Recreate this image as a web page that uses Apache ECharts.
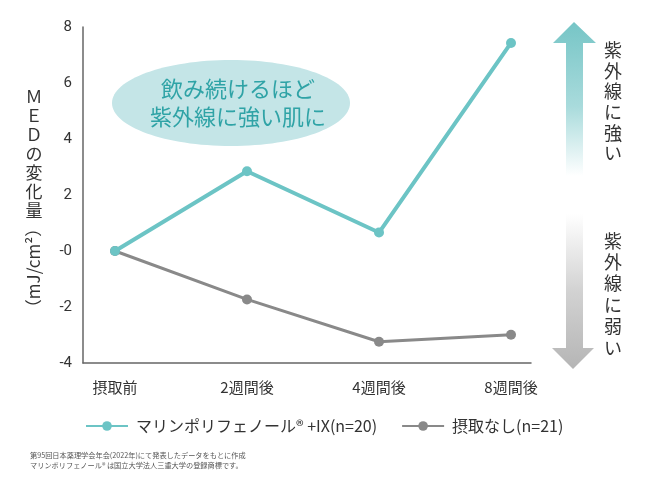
<!DOCTYPE html>
<html lang="ja">
<head>
<meta charset="UTF-8">
<title>MED</title>
<script src="https://cdn.jsdelivr.net/npm/echarts@6/dist/echarts.min.js"></script>
<style>
  html, body { margin: 0; padding: 0; background: #fff; }
  #chart { width: 660px; height: 480px; }
</style>
</head>
<body>
<div id="chart"></div>
<script>
  // データ
  var categories = ['摂取前', '2週間後', '4週間後', '8週間後'];
  var marineValues = [0, 2.85, 0.66, 7.43];
  var noneValues = [0, -1.73, -3.24, -2.99];
  var seriesNames = ['マリンポリフェノール® +IX(n=20)', '摂取なし(n=21)'];
  var yTicks = [-4, -2, 0, 2, 4, 6, 8];

  var font = '"Noto Sans CJK JP", "Noto Sans", sans-serif';
  var teal = '#6cc4c5';
  var gray = '#898989';

  function toPoints(vals) {
    return vals.map(function (v, i) { return [i, v]; });
  }

  var chart = echarts.init(document.getElementById('chart'));

  var option = {
    animation: false,
    textStyle: { fontFamily: font },
    grid: { left: 83, right: 129, top: 27, bottom: 117, containLabel: false },
    xAxis: {
      type: 'value',
      min: -0.2424,
      max: 3.1515,
      splitLine: { show: false },
      axisTick: { show: false },
      axisLine: { show: true, onZero: false, lineStyle: { color: '#666', width: 1.5 } },
      axisLabel: {
        customValues: [0, 1, 2, 3],
        formatter: function (v) { return categories[Math.round(v)]; },
        color: '#333',
        fontSize: 15,
        margin: 17,
        fontFamily: font
      }
    },
    yAxis: {
      type: 'value',
      min: yTicks[0],
      max: yTicks[yTicks.length - 1],
      interval: 2,
      splitLine: { show: false },
      axisTick: { show: false },
      axisLine: { show: true, onZero: false, lineStyle: { color: '#666', width: 1.5 } },
      axisLabel: {
        formatter: function (v) { return v === 0 ? '-0' : String(v); },
        color: '#333',
        fontSize: 15,
        margin: 11,
        fontFamily: 'Roboto, sans-serif'
      }
    },
    legend: {
      left: 80,
      top: 413,
      itemWidth: 42,
      itemHeight: 12,
      itemGap: 24,
      textStyle: { fontSize: 16, color: '#333', fontFamily: font, padding: [0, 0, 0, 3] },
      data: seriesNames
    },
    series: [
      {
        name: seriesNames[0],
        type: 'line',
        data: toPoints(marineValues),
        symbol: 'circle',
        symbolSize: 10,
        lineStyle: { color: teal, width: 4 },
        itemStyle: { color: teal },
        z: 3
      },
      {
        name: seriesNames[1],
        type: 'line',
        data: toPoints(noneValues),
        symbol: 'circle',
        symbolSize: 10,
        lineStyle: { color: gray, width: 3 },
        itemStyle: { color: gray },
        z: 2
      }
    ],
    graphic: [
      // 吹き出し
      {
        type: 'ellipse',
        shape: { cx: 231, cy: 103, rx: 119, ry: 43 },
        style: { fill: '#c4e5e7' },
        z: 1
      },
      {
        type: 'text',
        x: 238, y: 103,
        style: {
          text: '飲み続けるほど\n紫外線に強い肌に',
          fill: '#2fa3a6',
          fontSize: 22,
          lineHeight: 28,
          fontFamily: font,
          align: 'center',
          verticalAlign: 'middle'
        },
        z: 2
      },
      // 縦軸タイトル
      {
        type: 'text',
        x: 34, y: 87,
        style: {
          text: 'Ｍ\nＥ\nＤ\nの\n変\n化\n量',
          fill: '#333',
          fontSize: 17,
          lineHeight: 19,
          fontFamily: font,
          align: 'center',
          verticalAlign: 'top'
        }
      },
      {
        type: 'text',
        x: 34, y: 268,
        rotation: Math.PI / 2,
        style: {
          text: '（mJ/cm²）',
          fill: '#333',
          fontSize: 17,
          fontFamily: font,
          align: 'center',
          verticalAlign: 'middle'
        }
      },
      // 右側の矢印
      {
        type: 'polygon',
        shape: {
          points: [[574, 22], [596, 43], [583, 43], [583, 176], [566, 176], [566, 43], [553, 43]]
        },
        style: {
          fill: new echarts.graphic.LinearGradient(0, 0, 0, 1, [
            { offset: 0, color: '#76c5c6' },
            { offset: 0.55, color: '#a9dbdc' },
            { offset: 1, color: '#ffffff' }
          ])
        }
      },
      {
        type: 'polygon',
        shape: {
          points: [[566, 214], [583, 214], [583, 348], [594, 348], [573, 369], [552, 348], [566, 348]]
        },
        style: {
          fill: new echarts.graphic.LinearGradient(0, 0, 0, 1, [
            { offset: 0, color: '#ffffff' },
            { offset: 0.5, color: '#d2d2d2' },
            { offset: 1, color: '#b5b5b5' }
          ])
        }
      },
      {
        type: 'text',
        x: 613, y: 40,
        style: {
          text: '紫\n外\n線\nに\n強\nい',
          fill: '#333',
          fontSize: 18,
          lineHeight: 20.6,
          fontFamily: font,
          align: 'center',
          verticalAlign: 'top'
        }
      },
      {
        type: 'text',
        x: 613, y: 230,
        style: {
          text: '紫\n外\n線\nに\n弱\nい',
          fill: '#333',
          fontSize: 18,
          lineHeight: 21.4,
          fontFamily: font,
          align: 'center',
          verticalAlign: 'top'
        }
      },
      // 注記
      {
        type: 'text',
        x: 30, y: 450,
        style: {
          text: '第95回日本薬理学会年会(2022年)にて発表したデータをもとに作成\nマリンポリフェノール® は国立大学法人三重大学の登録商標です。',
          fill: '#555',
          fontSize: 7.2,
          lineHeight: 10,
          fontFamily: font
        }
      }
    ]
  };

  chart.setOption(option);
</script>
</body>
</html>
